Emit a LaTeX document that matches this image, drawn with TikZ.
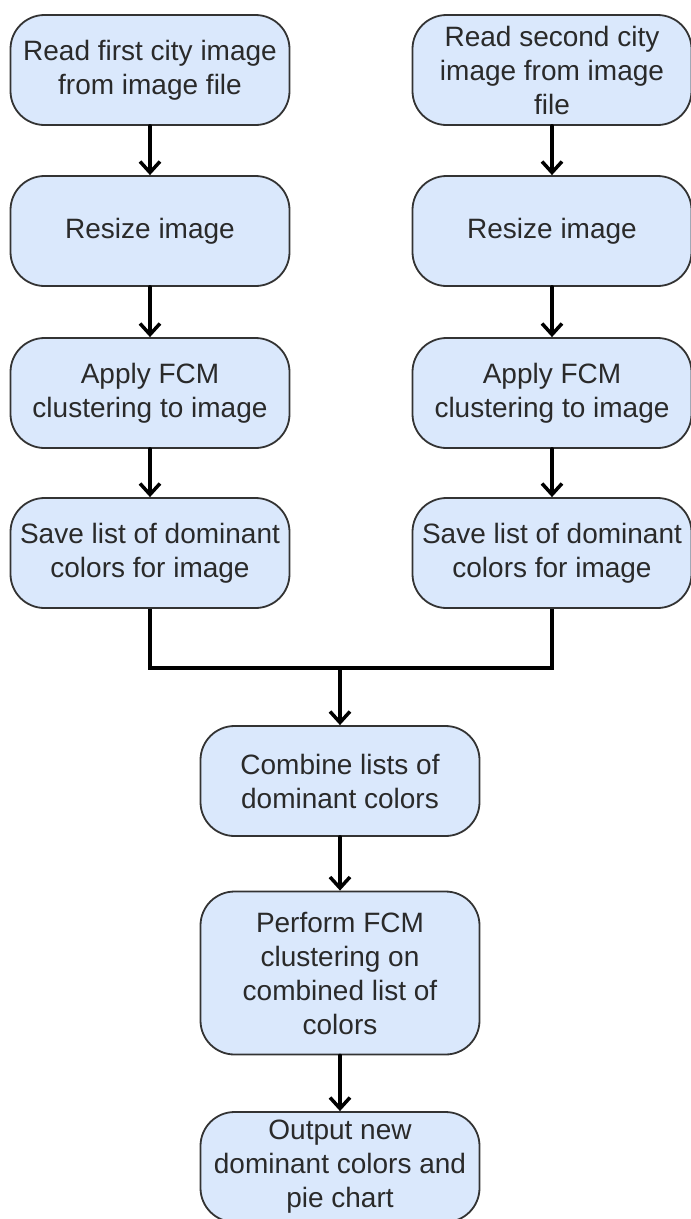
\documentclass[tikz,border=0pt]{standalone}
\usepackage{fontspec}
\setmainfont{Liberation Sans}
\usepackage{tikz}
\usetikzlibrary{arrows.meta}
\usetikzlibrary{calc}

\definecolor{boxfill}{HTML}{DAE8FC}
\definecolor{boxline}{HTML}{333333}
\definecolor{textgray}{HTML}{2A2A2A}

\begin{document}
\begin{tikzpicture}
	[x=1pt,y=-1pt,line cap=round,
	%Styles
	process/.style={draw=boxline,fill=boxfill,line width=1.8pt,rounded corners=34pt,
		minimum width=279pt,minimum height=110pt,align=center,inner sep=0pt,
		text=textgray,font=\fontsize{28}{34}\selectfont},
	flow/.style={line width=3.5pt,-{Straight Barb[length=11pt,width=20pt]}},
	joinline/.style={line width=3.5pt,line cap=butt}
	]
	
	\useasboundingbox (0,0) rectangle (691,1219);
	
	%The graphic
	\node [process] (readA) at (150,70) {Read first city image\\from image file};
	\node [process] (resizeA) at (150,231) {Resize image};
	\node [process] (fcmA) at (150,393) {Apply FCM\\clustering to image};
	\node [process] (saveA) at (150,553) {Save list of dominant\\colors for image};
	
	\node [process] (readB) at (552,70) {Read second city\\image from image\\file};
	\node [process] (resizeB) at (552,231) {Resize image};
	\node [process] (fcmB) at (552,393) {Apply FCM\\clustering to image};
	\node [process] (saveB) at (552,553) {Save list of dominant\\colors for image};
	
	\coordinate (merge) at (340,668);
	
	\node [process] (combine) at (340,781) {Combine lists of\\dominant colors};
	\node [process,minimum height=163pt] (perform) at (340,973) {Perform FCM\\clustering on\\combined list of\\colors};
	\node [process] (output) at (340,1167) {Output new\\dominant colors and\\pie chart};
	
	\draw[flow] (readA) -- (resizeA);
	\draw[flow] (resizeA) -- (fcmA);
	\draw[flow] (fcmA) -- (saveA);
	\draw[flow] (readB) -- (resizeB);
	\draw[flow] (resizeB) -- (fcmB);
	\draw[flow] (fcmB) -- (saveB);
	
	\draw[joinline] (saveA.south) |- (merge) -| (saveB.south);
	\draw[flow] (merge) -- (combine);
	\draw[flow] (combine) -- (perform);
	\draw[flow] (perform) -- (output);
\end{tikzpicture}
\end{document}
